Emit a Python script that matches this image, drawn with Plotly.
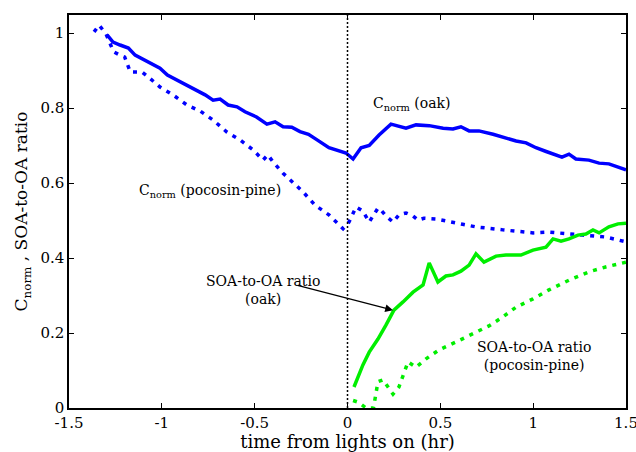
import plotly.graph_objects as go

# Cnorm (oak) - solid blue
oak_c_x = [-1.295, -1.263, -1.225, -1.18, -1.144, -1.1, -1.053, -1.01, -0.97, -0.92, -0.865, -0.81, -0.767,
           -0.724, -0.686, -0.643, -0.595, -0.552, -0.49, -0.434, -0.39, -0.347, -0.3, -0.256, -0.21, -0.17,
           -0.1, -0.008, 0.03, 0.073, 0.117, 0.17, 0.234, 0.315, 0.369, 0.44, 0.515, 0.568, 0.611, 0.655,
           0.708, 0.784, 0.855, 0.908, 0.962, 1.015, 1.07, 1.112, 1.155, 1.193, 1.23, 1.3, 1.355, 1.408, 1.457, 1.5]
oak_c_y = [0.995, 0.976, 0.968, 0.96, 0.941, 0.93, 0.917, 0.906, 0.888, 0.875, 0.859, 0.845, 0.835,
           0.821, 0.824, 0.808, 0.803, 0.79, 0.776, 0.757, 0.763, 0.75, 0.749, 0.737, 0.73, 0.717,
           0.694, 0.68, 0.664, 0.694, 0.7, 0.728, 0.757, 0.746, 0.755, 0.753, 0.746, 0.744, 0.75, 0.739,
           0.739, 0.73, 0.72, 0.712, 0.707, 0.694, 0.684, 0.677, 0.669, 0.677, 0.664, 0.661, 0.653, 0.651, 0.643, 0.635]

# Cnorm (pocosin-pine) - dotted blue
poc_c_x = [-1.365, -1.338, -1.3, -1.26, -1.225, -1.2, -1.17, -1.144, -1.107, -1.074, -1.01, -0.94, -0.865,
           -0.794, -0.724, -0.65, -0.579, -0.508, -0.455, -0.429, -0.401, -0.347, -0.293, -0.239, -0.175,
           -0.1, -0.024, 0.008, 0.046, 0.083, 0.117, 0.164, 0.18, 0.207, 0.245, 0.277, 0.315, 0.353, 0.38,
           0.412, 0.477, 0.547, 0.62, 0.692, 0.762, 0.837, 1.0, 1.085, 1.268, 1.39, 1.5]
poc_c_y = [1.003, 1.021, 0.997, 0.95, 0.941, 0.936, 0.896, 0.896, 0.896, 0.883, 0.856, 0.835, 0.808,
           0.792, 0.768, 0.736, 0.715, 0.688, 0.661, 0.675, 0.656, 0.626, 0.6, 0.576, 0.541,
           0.515, 0.478, 0.496, 0.536, 0.525, 0.496, 0.533, 0.528, 0.512, 0.496, 0.515, 0.52, 0.512, 0.501,
           0.506, 0.504, 0.496, 0.49, 0.483, 0.478, 0.475, 0.467, 0.469, 0.461, 0.456, 0.443]

# SOA-to-OA ratio (oak) - solid green
oak_r_x = [0.035, 0.083, 0.117, 0.164, 0.207, 0.25, 0.299, 0.353, 0.407, 0.44, 0.487, 0.53, 0.568, 0.611,
           0.655, 0.692, 0.735, 0.8, 0.853, 0.934, 0.999, 1.069, 1.107, 1.15, 1.193, 1.241, 1.284, 1.322,
           1.355, 1.408, 1.457, 1.5]
oak_r_y = [0.056, 0.115, 0.149, 0.184, 0.221, 0.261, 0.283, 0.309, 0.328, 0.387, 0.336, 0.352, 0.355, 0.365,
           0.381, 0.411, 0.389, 0.405, 0.408, 0.408, 0.421, 0.429, 0.451, 0.445, 0.451, 0.461, 0.464, 0.475,
           0.467, 0.483, 0.491, 0.493]

# SOA-to-OA ratio (pocosin-pine) - dotted green
poc_r_x = [0.03, 0.06, 0.1, 0.14, 0.164, 0.191, 0.245, 0.277, 0.326, 0.369, 0.423, 0.493, 0.584, 0.676,
           0.762, 0.837, 0.908, 0.999, 1.085, 1.193, 1.3, 1.39, 1.5]
poc_r_y = [0.02, 0.015, 0.0, 0.0, 0.07, 0.075, 0.037, 0.056, 0.123, 0.109, 0.131, 0.155, 0.176, 0.197,
           0.219, 0.243, 0.269, 0.291, 0.315, 0.341, 0.363, 0.376, 0.389]

x_ticks = [-1.5, -1, -0.5, 0, 0.5, 1, 1.5]
x_tick_labels = ["-1.5", "-1", "-0.5", "0", "0.5", "1", "1.5"]
y_ticks = [0, 0.2, 0.4, 0.6, 0.8, 1]
y_tick_labels = ["0", "0.2", "0.4", "0.6", "0.8", "1"]

BLUE = "#0000ff"
GREEN = "#00ee00"
FONT = "DejaVu Serif"

fig = go.Figure()
fig.add_trace(go.Scatter(x=oak_c_x, y=oak_c_y, mode="lines",
                         line=dict(color=BLUE, width=3.5)))
fig.add_trace(go.Scatter(x=poc_c_x, y=poc_c_y, mode="lines",
                         line=dict(color=BLUE, width=3.5, dash="4px,6px")))
fig.add_trace(go.Scatter(x=oak_r_x, y=oak_r_y, mode="lines",
                         line=dict(color=GREEN, width=3.5)))
fig.add_trace(go.Scatter(x=poc_r_x, y=poc_r_y, mode="lines",
                         line=dict(color=GREEN, width=3.5, dash="4px,6px")))

fig.add_shape(type="line", x0=0, x1=0, y0=0, y1=1, yref="paper", xref="x",
              line=dict(color="black", width=1.5, dash="2px,2px"))

fig.add_annotation(x=0.125, y=0.81, xanchor="left", yanchor="middle", showarrow=False,
                   text="C<sub>norm</sub> (oak)", font=dict(family=FONT, size=14, color="black"))
fig.add_annotation(x=-1.134, y=0.58, xanchor="left", yanchor="middle", showarrow=False,
                   text="C<sub>norm</sub> (pocosin-pine)", font=dict(family=FONT, size=14, color="black"))
fig.add_annotation(x=-0.455, y=0.315, xanchor="center", yanchor="middle", showarrow=False,
                   text="SOA-to-OA ratio<br>(oak)", font=dict(family=FONT, size=14, color="black"))
fig.add_annotation(x=1.004, y=0.139, xanchor="center", yanchor="middle", showarrow=False,
                   text="SOA-to-OA ratio<br>(pocosin-pine)", font=dict(family=FONT, size=14, color="black"))
fig.add_annotation(x=0.245, y=0.261, ax=-0.277, ay=0.328, xref="x", yref="y", axref="x", ayref="y",
                   showarrow=True, arrowhead=2, arrowsize=1.3, arrowwidth=1.2, arrowcolor="black", text="")

axis_common = dict(showline=True, linecolor="black", linewidth=1.5, mirror="ticks",
                   ticks="inside", ticklen=5, tickcolor="black", showgrid=False, zeroline=False,
                   automargin=False, ticklabeloverflow="allow",
                   tickfont=dict(family=FONT, size=15, color="black"))

fig.update_xaxes(range=[-1.5, 1.5], tickvals=x_ticks, ticktext=x_tick_labels,
                 title=dict(text="time from lights on (hr)", font=dict(family=FONT, size=18, color="black"),
                            standoff=2),
                 **axis_common)
fig.update_yaxes(range=[0, 1.048], tickvals=y_ticks, ticktext=y_tick_labels,
                 title=dict(text="C<sub>norm</sub> , SOA-to-OA ratio", font=dict(family=FONT, size=17, color="black"),
                            standoff=8),
                 **axis_common)

fig.update_layout(width=636, height=452, margin=dict(l=69, r=10, t=15, b=44),
                  plot_bgcolor="white", paper_bgcolor="white", showlegend=False,
                  font=dict(family=FONT, color="black"))

fig.write_html("out.html")
